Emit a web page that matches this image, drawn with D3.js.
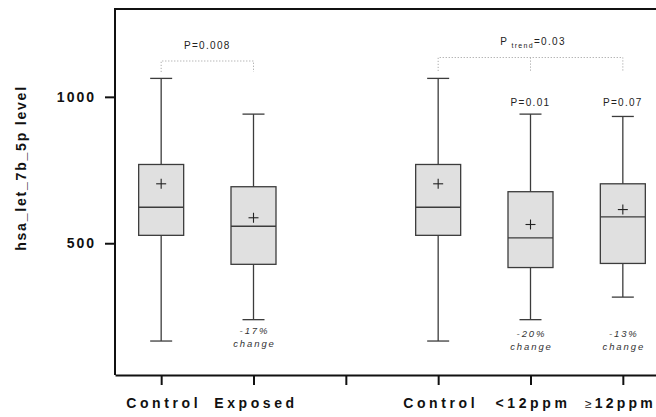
<!DOCTYPE html>
<html><head><meta charset="utf-8">
<script src="https://cdn.jsdelivr.net/npm/d3@7"></script>
<style>body{margin:0;background:#fff}svg{display:block}</style>
</head><body><svg id="c" width="656" height="417"></svg>
<script>
const categories = ["Control", "Exposed", "", "Control", "<12ppm", "\u226512ppm"];
const whiskerLow  = [166, 239, null, 166, 239, 316];
const q1          = [527, 428, null, 527, 417, 431];
const median      = [623, 558, null, 623, 518, 590];
const q3          = [769, 693, null, 769, 676, 703];
const whiskerHigh = [1063, 941, null, 1063, 941, 933];
const means       = [703, 587, null, 703, 564, 615];
const changeLabels = [null, "-17%", null, null, "-20%", "-13%"];
const yTicks = [500, 1000];

const svg = d3.select("#c");
const y = d3.scaleLinear().domain([50, 1300]).range([375, 9]);
const x = d3.scaleLinear().domain([-0.5, 5.5]).range([115, 669]);
const boxW = 45, capW = 22;
const fillC = "#e0e0e0", strokeC = "#3c3c3c";
const FF = "Liberation Sans, Arial, sans-serif";

const g = svg.append("g");
categories.forEach((c, i) => {
  if (q1[i] == null) return;
  const cx = x(i);
  g.append("line").attr("x1", cx).attr("x2", cx).attr("y1", y(whiskerLow[i])).attr("y2", y(whiskerHigh[i])).attr("stroke", strokeC).attr("stroke-width", 1.3);
  [whiskerLow[i], whiskerHigh[i]].forEach(v => g.append("line").attr("x1", cx - capW/2).attr("x2", cx + capW/2).attr("y1", y(v)).attr("y2", y(v)).attr("stroke", strokeC).attr("stroke-width", 1.3));
  g.append("rect").attr("x", cx - boxW/2).attr("width", boxW).attr("y", y(q3[i])).attr("height", y(q1[i]) - y(q3[i])).attr("fill", fillC).attr("stroke", strokeC).attr("stroke-width", 1.3);
  g.append("line").attr("x1", cx - boxW/2).attr("x2", cx + boxW/2).attr("y1", y(median[i])).attr("y2", y(median[i])).attr("stroke", strokeC).attr("stroke-width", 1.3);
  const my = y(means[i]);
  g.append("line").attr("x1", cx - 5).attr("x2", cx + 5).attr("y1", my).attr("y2", my).attr("stroke", "#222").attr("stroke-width", 1.1);
  g.append("line").attr("x1", cx).attr("x2", cx).attr("y1", my - 5).attr("y2", my + 5).attr("stroke", "#222").attr("stroke-width", 1.1);
  if (changeLabels[i]) {
    const ty = y(50) - (i === 1 ? 41 : 38);
    const t = g.append("text").attr("x", cx).attr("text-anchor", "middle").attr("font-family", FF).attr("font-style", "italic").attr("font-size", 9.5).attr("letter-spacing", 1.9).attr("fill", "#333");
    t.append("tspan").attr("x", cx + 1).attr("y", ty).text(changeLabels[i]);
    t.append("tspan").attr("x", cx + 1).attr("y", ty + 13).text("change");
  }
});

// frame
svg.append("path").attr("d", `M${x(-0.5)},${y(50)}V${y(1300)}H656`).attr("fill", "none").attr("stroke", "#111").attr("stroke-width", 2);
// axes
const yAxis = svg.append("g").attr("transform", `translate(${x(-0.5)},0)`).call(d3.axisLeft(y).tickValues(yTicks).tickSize(10).tickFormat(d3.format("d")));
yAxis.select(".domain").remove();
yAxis.selectAll("line").attr("stroke", "#111").attr("stroke-width", 2);
yAxis.selectAll("text").attr("font-family", FF).attr("font-weight", "bold").attr("font-size", 14).attr("letter-spacing", 2).attr("fill", "#111").attr("dx", -6);

const xAxis = svg.append("g").attr("transform", `translate(0,${y(50)})`).call(d3.axisBottom(x).tickValues(d3.range(categories.length)).tickSize(10).tickSizeOuter(0).tickFormat(i => categories[i]));
xAxis.select(".domain").attr("stroke", "#111").attr("stroke-width", 2);
xAxis.selectAll("line").attr("stroke", "#111").attr("stroke-width", 2);
xAxis.selectAll("text").attr("font-family", FF).attr("font-weight", "bold").attr("font-size", 14).attr("letter-spacing", 3.6).attr("fill", "#111").attr("dy", "1.45em").attr("dx", 2);
// last label: thin, smaller ≥ glyph and kept inside the page
xAxis.selectAll("text").filter(i => i === 5).each(function () {
  const t = d3.select(this).text("").attr("letter-spacing", 3.2).attr("dx", -3);
  t.append("tspan").attr("font-weight", "normal").attr("font-size", 12).text("\u2265");
  t.append("tspan").text("12ppm");
});

// y label
svg.append("text").attr("transform", `translate(26,168) rotate(-90)`).attr("text-anchor", "middle").attr("font-family", FF).attr("font-weight", "bold").attr("font-size", 14).attr("letter-spacing", 1.8).attr("fill", "#111").text("hsa_let_7b_5p level");

// brackets
const dot = { stroke: "#aaa", "stroke-width": 1, "stroke-dasharray": "1.2,1.8", fill: "none" };
function dotted(d) { const p = svg.append("path").attr("d", d); Object.entries(dot).forEach(([k, v]) => p.attr(k, v)); }
dotted(`M${x(0)},72V61H${x(1)}V72`);
dotted(`M${x(3)},71V57.5H${x(5)}V71M${x(4)},57.5V71`);

const ann = (tx, ty, txt) => svg.append("text").attr("x", tx).attr("y", ty).attr("text-anchor", "middle").attr("font-family", FF).attr("font-size", 10).attr("letter-spacing", 1.3).attr("fill", "#222").text(txt);
ann((x(0) + x(1)) / 2, 49, "P=0.008");
ann(x(4), 106, "P=0.01");
ann(x(5), 106, "P=0.07");
const pt = svg.append("text").attr("x", 533).attr("y", 45).attr("text-anchor", "middle").attr("font-family", FF).attr("font-size", 10).attr("letter-spacing", 1.3).attr("fill", "#222");
pt.append("tspan").text("P");
pt.append("tspan").attr("font-size", 7).attr("dy", 3).text(" trend");
pt.append("tspan").attr("dy", -3).text("=0.03");
</script></body></html>
